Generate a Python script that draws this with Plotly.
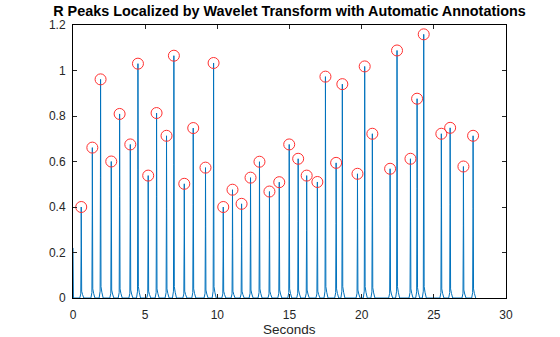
import plotly.graph_objects as go

# R-peak locations (s) and amplitudes
peak_times = [0.57, 1.34, 1.91, 2.65, 3.23, 3.97, 4.50, 5.21, 5.79, 6.48,
              6.99, 7.71, 8.33, 9.18, 9.74, 10.41, 11.05, 11.68, 12.30, 12.92,
              13.61, 14.29, 14.98, 15.60, 16.19, 16.93, 17.49, 18.23, 18.66, 19.71,
              20.21, 20.74, 21.97, 22.45, 23.38, 23.84, 24.30, 25.52, 26.13, 27.05,
              27.72]
peak_values = [0.40, 0.661, 0.961, 0.600, 0.809, 0.675, 1.030, 0.538, 0.813, 0.713,
               1.065, 0.502, 0.747, 0.573, 1.033, 0.400, 0.476, 0.414, 0.529, 0.599,
               0.468, 0.509, 0.675, 0.612, 0.538, 0.510, 0.973, 0.594, 0.940, 0.546,
               1.018, 0.722, 0.568, 1.088, 0.612, 0.876, 1.159, 0.722, 0.748, 0.578,
               0.713]
# small base bumps around each beat (approximate)
bump_values = [0.03, 0.04, 0.05, 0.035, 0.04, 0.035, 0.05, 0.03, 0.04, 0.04,
               0.05, 0.03, 0.04, 0.035, 0.05, 0.03, 0.03, 0.03, 0.035, 0.04,
               0.03, 0.035, 0.04, 0.035, 0.035, 0.03, 0.05, 0.04, 0.05, 0.035,
               0.05, 0.045, 0.035, 0.05, 0.04, 0.045, 0.05, 0.04, 0.04, 0.035,
               0.04]
start_value = 0.22

xs = [0.0, 0.03]
ys = [start_value, 0.0]
for t, h, b in zip(peak_times, peak_values, bump_values):
    xs += [t - 0.10, t - 0.03, t - 0.008, t, t + 0.008, t + 0.03, t + 0.09, t + 0.18]
    ys += [0.0, b * 0.6, h * 0.55, h, h * 0.5, b, b * 0.5, 0.0]

fig = go.Figure()
fig.add_trace(go.Scatter(x=xs, y=ys, mode="lines",
                         line=dict(color="#0072BD", width=1), hoverinfo="skip"))
fig.add_trace(go.Scatter(x=peak_times, y=peak_values, mode="markers",
                         marker=dict(symbol="circle-open", size=11, color="#FF3030",
                                     line=dict(width=1, color="#FF3030"))))

font_family = "Liberation Sans, Arial, Helvetica"
axis_common = dict(showline=True, linecolor="#000000", linewidth=1, mirror="ticks",
                   ticks="inside", ticklen=4, tickcolor="#262626", showgrid=False,
                   zeroline=False, automargin=False,
                   tickfont=dict(family=font_family, size=12, color="#262626"))
fig.update_layout(
    width=560, height=337,
    margin=dict(l=73, r=54, t=25, b=39),
    paper_bgcolor="white", plot_bgcolor="white",
    showlegend=False,
    title=dict(text="<b>R Peaks Localized by Wavelet Transform with Automatic Annotations</b>",
               x=(73 + 506) / 2 / 560, xanchor="center", y=1 - 10.5 / 337, yanchor="middle",
               font=dict(family=font_family, size=14.4, color="#000000")),
    xaxis=dict(range=[0, 30], tickvals=[0, 5, 10, 15, 20, 25, 30],
               ticklabelstandoff=6, **axis_common),
    yaxis=dict(range=[0, 1.2], tickvals=[0, 0.2, 0.4, 0.6, 0.8, 1, 1.2],
               ticktext=["0", "0.2", "0.4", "0.6", "0.8", "1", "1.2"],
               ticklabelstandoff=4, **axis_common),
    annotations=[dict(text="Seconds", xref="paper", yref="paper", x=0.5,
                      y=-(329 - 298) / (298 - 25),
                      showarrow=False, xanchor="center", yanchor="middle",
                      font=dict(family=font_family, size=13.5, color="#262626"))],
)
fig.write_html("out.html")
